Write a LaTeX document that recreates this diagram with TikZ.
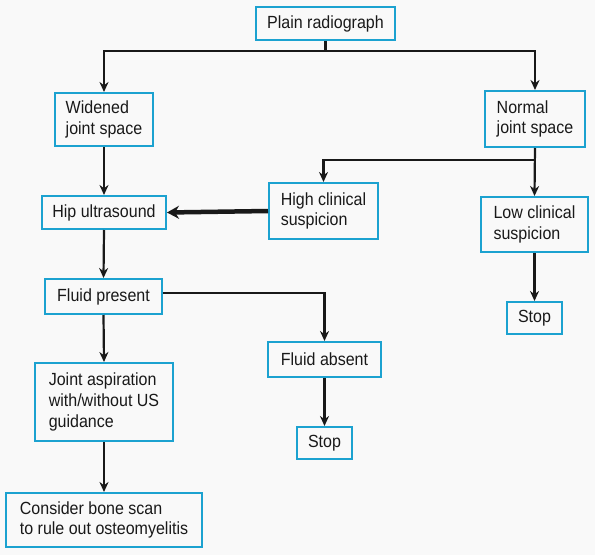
\documentclass[tikz,border=0pt]{standalone}
\usepackage{fontspec}
\setmainfont[FakeStretch=0.91]{Liberation Sans}
\usetikzlibrary{arrows.meta}
\definecolor{boxc}{RGB}{28,162,208}
\definecolor{bgc}{RGB}{249,249,249}
\definecolor{linec}{RGB}{25,25,25}
\tikzset{
  box/.style={draw=boxc, line width=2pt, fill=bgc, inner sep=0pt,
    font=\fontsize{17.6}{20.8}\selectfont, text=linec},
  sbox/.style={box, align=center},
  mbox/.style={box, align=left},
  arr/.style={draw=linec, line width=2.2pt, -{Stealth[length=10pt,width=9pt]}},
  thickarr/.style={draw=linec, line width=4.5pt, -{Stealth[length=12pt,width=13pt]}}
}
\begin{document}
\begin{tikzpicture}[x=1pt,y=-1pt]
\fill[bgc] (0,0) rectangle (595,555);
\useasboundingbox (0,0) rectangle (595,555);

\node[sbox, minimum width=139pt, minimum height=33pt] (plain) at (325.5,23.5) {Plain radiograph};
\node[mbox, minimum width=98pt, minimum height=53pt] (widened) at (104,119.5) {Widened\\joint space};
\node[mbox, minimum width=100pt, minimum height=56pt] (normal) at (535,119) {Normal\\joint space};
\node[mbox, minimum width=109pt, minimum height=56pt] (high) at (323.5,211) {High clinical\\suspicion};
\node[sbox, minimum width=124pt, minimum height=33pt] (hip) at (104,212.5) {Hip ultrasound};
\node[mbox, minimum width=107pt, minimum height=55pt] (low) at (534.5,224.5) {Low clinical\\suspicion};
\node[sbox, minimum width=117pt, minimum height=35pt] (fluidp) at (103.5,296.5) {Fluid present};
\node[sbox, minimum width=113pt, minimum height=35pt] (fluida) at (324.5,359.5) {Fluid absent};
\node[sbox, minimum width=55pt, minimum height=32pt] (stopr) at (534.5,318) {Stop};
\node[mbox, minimum width=138pt, minimum height=78pt] (joint) at (104,402) {Joint aspiration\\with/without US\\guidance};
\node[sbox, minimum width=55pt, minimum height=32pt] (stopm) at (324.5,443) {Stop};
\node[mbox, minimum width=196pt, minimum height=54pt] (consider) at (104,520) {Consider bone scan\\to rule out osteomyelitis};

\coordinate (j1) at (325.5,51);
\coordinate (j2) at (535,160);

\draw[draw=linec, line width=2.2pt] (plain.south) -- (j1);
\draw[arr] (j1) -| (widened.north);
\draw[arr] (j1) -| (normal.north);
\draw[arr] (widened.south) -- (hip.north);
\draw[arr] (normal.south) -- (low.north);
\draw[arr] (j2) -| (high.north);
\draw[thickarr] (high.west) -- (hip.east);
\draw[arr] (hip.south) -- (fluidp.north);
\draw[arr] ([yshift=3.5pt]fluidp.east) -| (fluida.north);
\draw[arr] (fluida.south) -- (stopm.north);
\draw[arr] (low.south) -- (stopr.north);
\draw[arr] (fluidp.south) -- (joint.north);
\draw[arr] (joint.south) -- (consider.north);
\end{tikzpicture}
\end{document}
